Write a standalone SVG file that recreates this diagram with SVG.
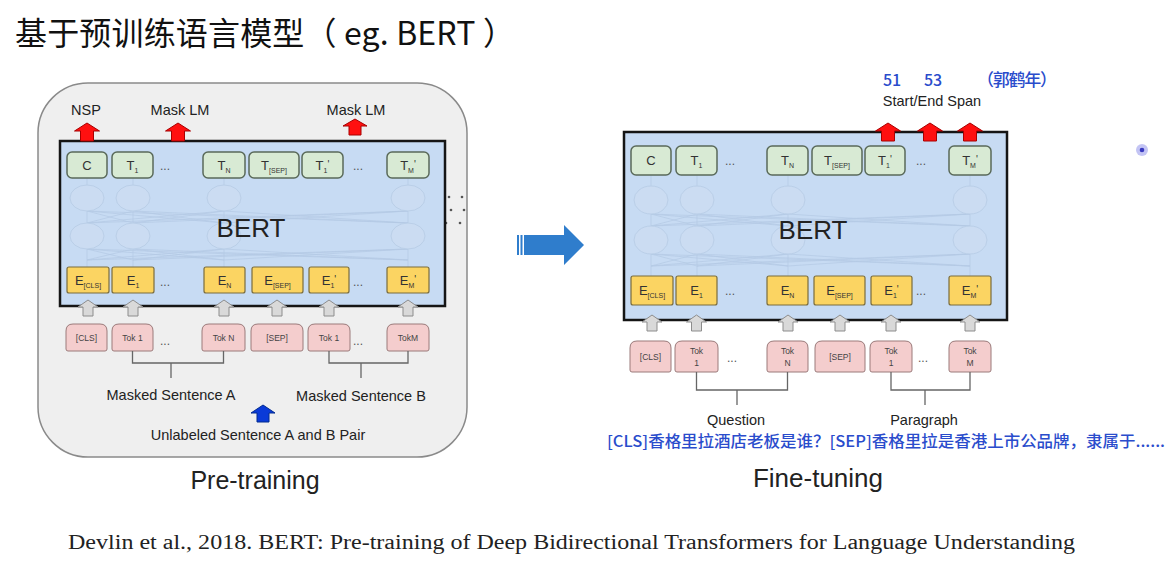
<svg xmlns="http://www.w3.org/2000/svg" width="1169" height="563" viewBox="0 0 1169 563">
<style>
.sans{font-family:"Liberation Sans",Arial,sans-serif;fill:#222}
.cjk{font-family:"Noto Sans CJK SC","Liberation Sans",sans-serif}
.bert{fill:#c7dbf3;stroke:#151515;stroke-width:2.5}
.t{fill:#d8ead4;stroke:#5a6a5a;stroke-width:1.5}
.e{fill:#fbd462;stroke:#7a6c3c;stroke-width:1.2}
.tok{fill:#f4cdcd;stroke:#9b7b7b;stroke-width:1}
.bx{font-family:"Liberation Sans",Arial,sans-serif;fill:#333;font-size:13px;text-anchor:middle}
.tk{font-family:"Liberation Sans",Arial,sans-serif;fill:#444;font-size:8.5px;text-anchor:middle}
.dots{font-family:"Liberation Sans",Arial,sans-serif;fill:#555;font-size:12px;text-anchor:middle}
.ghost{fill:none;stroke:#b3c9e4;stroke-width:1;opacity:0.7}
.gell{fill:#cbdcf2;stroke:#bacfe8;stroke-width:1}
.red{fill:#ff1010;stroke:#a80000;stroke-width:1}
.gray{fill:#d9d9d9;stroke:#8d8d8d;stroke-width:1}
.br{fill:none;stroke:#666;stroke-width:1.3}
.lbl{font-family:"Liberation Sans",Arial,sans-serif;fill:#222;font-size:14.5px;text-anchor:middle}
.blue{fill:#2a4ccc}
</style>
<defs>
<path id="ra" d="M0,0 L12.5,8 L6.5,8 L6.5,18 L-6.5,18 L-6.5,8 L-12.5,8 Z"/>
<path id="ra2" d="M0,0 L12,7 L6,7 L6,16 L-6,16 L-6,7 L-12,7 Z"/>
<path id="ga" d="M0,0 L10,7 L5,7 L5,16 L-5,16 L-5,7 L-10,7 Z"/>
</defs>
<rect width="1169" height="563" fill="#ffffff"/>

<g id="title">
<text x="15" y="45" class="cjk" font-size="32" fill="#111" textLength="500" lengthAdjust="spacing">基于预训练语言模型（ eg. BERT ）</text>
</g>

<!-- ===== LEFT PANEL: Pre-training ===== -->
<g id="pretrain-frame">
<rect x="38" y="83" width="429" height="374" rx="50" fill="#efefef" stroke="#8a8a8a" stroke-width="1.5"/>
<circle cx="449" cy="197" r="1.3" fill="#555"/><circle cx="462" cy="197" r="1.3" fill="#555"/>
<circle cx="451" cy="210" r="1.3" fill="#555"/><circle cx="464" cy="210" r="1.3" fill="#555"/>
<circle cx="446" cy="223" r="1.3" fill="#555"/><circle cx="460" cy="223" r="1.3" fill="#555"/>
</g>

<g id="bert-left">
<rect class="bert" x="60" y="141" width="385" height="165"/>
<g class="ghost-net">
<path class="ghost" d="M87,178V185M133,178V185M224,178V185M408,178V185M87,211V223M133,211V223M224,211V223M408,211V223M87,249V267M133,249V267M224,249V267M408,249V267
M87,211L133,223M87,211L224,223M87,211L408,223M133,211L87,223M133,211L224,223M133,211L408,223M224,211L87,223M224,211L133,223M224,211L408,223M408,211L87,223M408,211L133,223M408,211L224,223
M87,249L133,260M87,249L224,260M87,249L408,260M133,249L87,260M133,249L224,260M133,249L408,260M224,249L87,260M224,249L133,260M224,249L408,260M408,249L87,260M408,249L133,260M408,249L224,260"/>
<ellipse class="gell" cx="87" cy="198" rx="17" ry="13"/><ellipse class="gell" cx="133" cy="198" rx="17" ry="13"/>
<ellipse class="gell" cx="224" cy="198" rx="17" ry="13"/><ellipse class="gell" cx="408" cy="198" rx="17" ry="13"/>
<ellipse class="gell" cx="87" cy="236" rx="17" ry="13"/><ellipse class="gell" cx="133" cy="236" rx="17" ry="13"/>
<ellipse class="gell" cx="224" cy="236" rx="17" ry="13"/><ellipse class="gell" cx="408" cy="236" rx="17" ry="13"/>
</g>
<text x="251" y="237" class="sans" font-size="26" text-anchor="middle" fill="#111">BERT</text>
</g>

<g id="L-T-C"><rect class="t" x="67" y="152" width="40" height="26" rx="5"/><text class="bx" x="87" y="170">C</text></g>
<g id="L-T-1"><rect class="t" x="112" y="152" width="41" height="26" rx="5"/><text class="bx" x="132.5" y="170">T<tspan font-size="7" dy="3">1</tspan></text></g>
<g id="L-T-N"><rect class="t" x="203" y="152" width="42" height="26" rx="5"/><text class="bx" x="224" y="170">T<tspan font-size="7" dy="3">N</tspan></text></g>
<g id="L-T-SEP"><rect class="t" x="249" y="152" width="50" height="26" rx="5"/><text class="bx" x="274" y="170">T<tspan font-size="7" dy="3">[SEP]</tspan></text></g>
<g id="L-T-1p"><rect class="t" x="302" y="152" width="41" height="26" rx="5"/><text class="bx" x="322.5" y="170">T<tspan font-size="7" dy="3">1</tspan><tspan font-size="10" dy="-5">'</tspan></text></g>
<g id="L-T-Mp"><rect class="t" x="387" y="152" width="42" height="26" rx="5"/><text class="bx" x="408" y="170">T<tspan font-size="7" dy="3">M</tspan><tspan font-size="10" dy="-5">'</tspan></text></g>
<text class="dots" x="165" y="170">...</text><text class="dots" x="358" y="170">...</text>

<g id="L-E-CLS"><rect class="e" x="67" y="267" width="42" height="26" rx="2"/><text class="bx" x="88" y="285">E<tspan font-size="7" dy="3">[CLS]</tspan></text></g>
<g id="L-E-1"><rect class="e" x="112" y="267" width="42" height="26" rx="2"/><text class="bx" x="133" y="285">E<tspan font-size="7" dy="3">1</tspan></text></g>
<g id="L-E-N"><rect class="e" x="204" y="267" width="41" height="26" rx="2"/><text class="bx" x="224.5" y="285">E<tspan font-size="7" dy="3">N</tspan></text></g>
<g id="L-E-SEP"><rect class="e" x="252" y="267" width="51" height="26" rx="2"/><text class="bx" x="277.5" y="285">E<tspan font-size="7" dy="3">[SEP]</tspan></text></g>
<g id="L-E-1p"><rect class="e" x="309" y="267" width="40" height="26" rx="2"/><text class="bx" x="329" y="285">E<tspan font-size="7" dy="3">1</tspan><tspan font-size="10" dy="-5">'</tspan></text></g>
<g id="L-E-Mp"><rect class="e" x="387" y="267" width="42" height="26" rx="2"/><text class="bx" x="408" y="285">E<tspan font-size="7" dy="3">M</tspan><tspan font-size="10" dy="-5">'</tspan></text></g>
<text class="dots" x="165" y="286">...</text><text class="dots" x="358" y="286">...</text>

<g id="L-tok-CLS"><path class="tok" d="M68,351H105Q107,351 107,349V331Q107,324 100,324H73Q66,324 66,331V349Q66,351 68,351Z"/><text class="tk" x="86.5" y="341">[CLS]</text></g>
<g id="L-tok-1"><path class="tok" d="M114,351H151Q153,351 153,349V331Q153,324 146,324H119Q112,324 112,331V349Q112,351 114,351Z"/><text class="tk" x="132.5" y="341">Tok 1</text></g>
<g id="L-tok-N"><path class="tok" d="M204,351H243Q245,351 245,349V331Q245,324 238,324H209Q202,324 202,331V349Q202,351 204,351Z"/><text class="tk" x="223.5" y="341">Tok N</text></g>
<g id="L-tok-SEP"><path class="tok" d="M253,351H301Q303,351 303,349V331Q303,324 296,324H258Q251,324 251,331V349Q251,351 253,351Z"/><text class="tk" x="277" y="341">[SEP]</text></g>
<g id="L-tok-1b"><path class="tok" d="M310,351H348Q350,351 350,349V331Q350,324 343,324H315Q308,324 308,331V349Q308,351 310,351Z"/><text class="tk" x="329" y="341">Tok 1</text></g>
<g id="L-tok-M"><path class="tok" d="M389,351H427Q429,351 429,349V331Q429,324 422,324H394Q387,324 387,331V349Q387,351 389,351Z"/><text class="tk" x="408" y="341">TokM</text></g>
<text class="dots" x="165" y="345">...</text><text class="dots" x="358" y="345">...</text>

<g id="L-labels">
<text class="lbl" x="86" y="115">NSP</text>
<text class="lbl" x="180" y="115">Mask LM</text>
<text class="lbl" x="356" y="115">Mask LM</text>
<text class="lbl" x="171" y="400">Masked Sentence A</text>
<text class="lbl" x="361" y="401">Masked Sentence B</text>
<text class="lbl" x="258" y="440">Unlabeled Sentence A and B Pair</text>
<text class="sans" x="255" y="489" font-size="25" text-anchor="middle" fill="#222">Pre-training</text>
</g>

<!-- ===== RIGHT PANEL: Fine-tuning ===== -->
<g id="bert-right">
<rect class="bert" x="624" y="132" width="383" height="188"/>
<g class="ghost-net">
<path class="ghost" d="M651,175V186M697,175V186M788,175V186M970,175V186M651,214V226M697,214V226M788,214V226M970,214V226M651,254V276M697,254V276M788,254V276M970,254V276
M651,214L697,226M651,214L788,226M651,214L970,226M697,214L651,226M697,214L788,226M697,214L970,226M788,214L651,226M788,214L697,226M788,214L970,226M970,214L651,226M970,214L697,226M970,214L788,226
M651,254L697,266M651,254L788,266M651,254L970,266M697,254L651,266M697,254L788,266M697,254L970,266M788,254L651,266M788,254L697,266M788,254L970,266M970,254L651,266M970,254L697,266M970,254L788,266"/>
<ellipse class="gell" cx="651" cy="200" rx="17" ry="14"/><ellipse class="gell" cx="697" cy="200" rx="17" ry="14"/>
<ellipse class="gell" cx="788" cy="200" rx="17" ry="14"/><ellipse class="gell" cx="970" cy="200" rx="17" ry="14"/>
<ellipse class="gell" cx="651" cy="240" rx="17" ry="14"/><ellipse class="gell" cx="697" cy="240" rx="17" ry="14"/>
<ellipse class="gell" cx="788" cy="240" rx="17" ry="14"/><ellipse class="gell" cx="970" cy="240" rx="17" ry="14"/>
</g>
<text x="813" y="239" class="sans" font-size="26" text-anchor="middle" fill="#111">BERT</text>
</g>

<g id="R-T-C"><rect class="t" x="631" y="146" width="40" height="29" rx="5"/><text class="bx" x="651" y="165">C</text></g>
<g id="R-T-1"><rect class="t" x="676" y="146" width="41" height="29" rx="5"/><text class="bx" x="696.5" y="165">T<tspan font-size="7" dy="3">1</tspan></text></g>
<g id="R-T-N"><rect class="t" x="767" y="146" width="41" height="29" rx="5"/><text class="bx" x="787.5" y="165">T<tspan font-size="7" dy="3">N</tspan></text></g>
<g id="R-T-SEP"><rect class="t" x="812" y="146" width="50" height="29" rx="5"/><text class="bx" x="837" y="165">T<tspan font-size="7" dy="3">[SEP]</tspan></text></g>
<g id="R-T-1p"><rect class="t" x="865" y="146" width="40" height="29" rx="5"/><text class="bx" x="885" y="165">T<tspan font-size="7" dy="3">1</tspan><tspan font-size="10" dy="-5">'</tspan></text></g>
<g id="R-T-Mp"><rect class="t" x="949" y="146" width="42" height="29" rx="5"/><text class="bx" x="970" y="165">T<tspan font-size="7" dy="3">M</tspan><tspan font-size="10" dy="-5">'</tspan></text></g>
<text class="dots" x="730" y="165">...</text><text class="dots" x="921" y="165">...</text>

<g id="R-E-CLS"><rect class="e" x="631" y="276" width="42" height="29" rx="2"/><text class="bx" x="652" y="295">E<tspan font-size="7" dy="3">[CLS]</tspan></text></g>
<g id="R-E-1"><rect class="e" x="676" y="276" width="41" height="29" rx="2"/><text class="bx" x="696.5" y="295">E<tspan font-size="7" dy="3">1</tspan></text></g>
<g id="R-E-N"><rect class="e" x="767" y="276" width="41" height="29" rx="2"/><text class="bx" x="787.5" y="295">E<tspan font-size="7" dy="3">N</tspan></text></g>
<g id="R-E-SEP"><rect class="e" x="814" y="276" width="51" height="29" rx="2"/><text class="bx" x="839.5" y="295">E<tspan font-size="7" dy="3">[SEP]</tspan></text></g>
<g id="R-E-1p"><rect class="e" x="871" y="276" width="41" height="29" rx="2"/><text class="bx" x="891.5" y="295">E<tspan font-size="7" dy="3">1</tspan><tspan font-size="10" dy="-5">'</tspan></text></g>
<g id="R-E-Mp"><rect class="e" x="949" y="276" width="42" height="29" rx="2"/><text class="bx" x="970" y="295">E<tspan font-size="7" dy="3">M</tspan><tspan font-size="10" dy="-5">'</tspan></text></g>
<text class="dots" x="730" y="295">...</text><text class="dots" x="921" y="295">...</text>

<g id="R-tok-CLS"><path class="tok" d="M632,372H669Q671,372 671,370V348Q671,341 664,341H637Q630,341 630,348V370Q630,372 632,372Z"/><text class="tk" x="650.5" y="360" font-size="7.5">[CLS]</text></g>
<g id="R-tok-1"><path class="tok" d="M677,372H716Q718,372 718,370V348Q718,341 711,341H682Q675,341 675,348V370Q675,372 677,372Z"/><text class="tk" x="696.5" y="354">Tok</text><text class="tk" x="696.5" y="366">1</text></g>
<g id="R-tok-N"><path class="tok" d="M769,372H806Q808,372 808,370V348Q808,341 801,341H774Q767,341 767,348V370Q767,372 769,372Z"/><text class="tk" x="787.5" y="354">Tok</text><text class="tk" x="787.5" y="366">N</text></g>
<g id="R-tok-SEP"><path class="tok" d="M817,372H863Q865,372 865,370V348Q865,341 858,341H822Q815,341 815,348V370Q815,372 817,372Z"/><text class="tk" x="840" y="360" font-size="7.5">[SEP]</text></g>
<g id="R-tok-1b"><path class="tok" d="M872,372H910Q912,372 912,370V348Q912,341 905,341H877Q870,341 870,348V370Q870,372 872,372Z"/><text class="tk" x="891" y="354">Tok</text><text class="tk" x="891" y="366">1</text></g>
<g id="R-tok-M"><path class="tok" d="M951,372H989Q991,372 991,370V348Q991,341 984,341H956Q949,341 949,348V370Q949,372 951,372Z"/><text class="tk" x="970" y="354">Tok</text><text class="tk" x="970" y="366">M</text></g>
<text class="dots" x="732" y="362">...</text><text class="dots" x="923" y="362">...</text>

<g id="R-labels">
<text class="cjk blue" x="883" y="86" font-size="16" font-weight="500">51</text>
<text class="cjk blue" x="924" y="86" font-size="16" font-weight="500">53</text>
<text class="cjk blue" x="977" y="86" font-size="17" font-weight="500" textLength="80" lengthAdjust="spacing">（郭鹤年）</text>
<text class="lbl" x="932" y="106" font-size="15">Start/End Span</text>
<text class="lbl" x="736" y="425">Question</text>
<text class="lbl" x="924" y="425">Paragraph</text>
<text class="cjk blue" x="607" y="447" font-size="15.5" font-weight="500" textLength="558" lengthAdjust="spacingAndGlyphs">[CLS]香格里拉酒店老板是谁？[SEP]香格里拉是香港上市公品牌，隶属于......</text>
<text class="sans" x="818" y="487" font-size="26" text-anchor="middle" fill="#111">Fine-tuning</text>
</g>

<g id="connectors">
<use href="#ra" class="red" x="87" y="123"/>
<use href="#ra" class="red" x="178" y="123"/>
<use href="#ra2" class="red" x="355" y="119"/>
<use href="#ga" class="gray" x="88" y="300"/>
<use href="#ga" class="gray" x="133" y="300"/>
<use href="#ga" class="gray" x="224" y="300"/>
<use href="#ga" class="gray" x="277" y="300"/>
<use href="#ga" class="gray" x="329" y="300"/>
<use href="#ga" class="gray" x="408" y="300"/>
<path class="br" d="M132.5,351V363H223.5V351M171,363V378"/>
<path class="br" d="M329,351V363H408V351M361,363V378"/>
<path d="M263,405L275,413H269V422H257V413H251Z" fill="#0a3ad8" stroke="#002a90" stroke-width="1"/>
<g fill="#2f7dcc">
<rect x="517" y="235" width="2" height="20"/>
<rect x="520.5" y="235" width="2" height="20"/>
<path d="M524,235H564V225L584,245L564,265V255H524Z"/>
</g>
<use href="#ra" class="red" x="888" y="123"/>
<use href="#ra" class="red" x="930" y="123"/>
<use href="#ra" class="red" x="970" y="123"/>
<use href="#ga" class="gray" x="652" y="315"/>
<use href="#ga" class="gray" x="696.5" y="315"/>
<use href="#ga" class="gray" x="788" y="315"/>
<use href="#ga" class="gray" x="840" y="315"/>
<use href="#ga" class="gray" x="891" y="315"/>
<use href="#ga" class="gray" x="970" y="315"/>
<path class="br" d="M696.5,372V390H787.5V372M737,390V405"/>
<path class="br" d="M891,372V390H970V372M925,390V405"/>
</g>

<g id="pointer">
<circle cx="1142" cy="150" r="6" fill="#b9baf2" opacity="0.85"/>
<circle cx="1142" cy="150" r="2.3" fill="#3a3ac0"/>
</g>

<g id="footer">
<text x="68" y="549" font-family="'Liberation Serif','Times New Roman',serif" font-size="20" fill="#222" textLength="1007" lengthAdjust="spacingAndGlyphs">Devlin et al., 2018. BERT: Pre-training of Deep Bidirectional Transformers for Language Understanding</text>
</g>
</svg>
